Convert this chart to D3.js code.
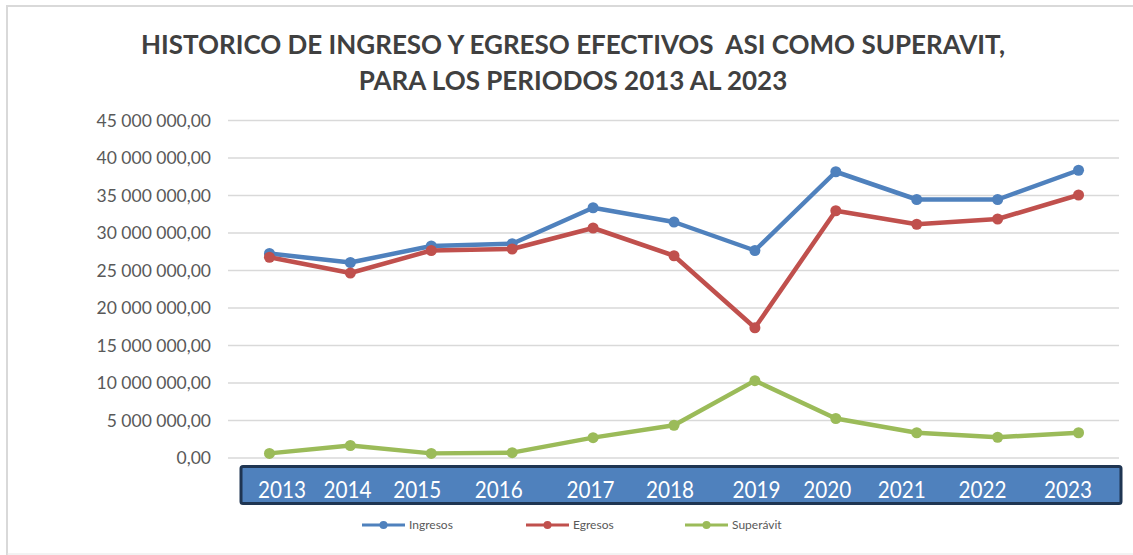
<!DOCTYPE html>
<html>
<head>
<meta charset="utf-8">
<script src="https://cdn.jsdelivr.net/npm/d3@7"></script>
<style>
  html, body { margin: 0; padding: 0; background: #ffffff; }
  svg { display: block; }
  text { font-family: Lato, "Open Sans", sans-serif; }
</style>
</head>
<body>
<svg id="chart" width="1133" height="555"></svg>
<script>
// Years covered by the report
const years = ["2013", "2014", "2015", "2016", "2017", "2018", "2019", "2020", "2021", "2022", "2023"];

// Effective income, expenses and surplus per year (currency units)
const ingresos = [27200000, 26000000, 28200000, 28500000, 33300000, 31400000, 27600000, 38100000, 34400000, 34400000, 38300000];
const egresos = [26700000, 24600000, 27600000, 27800000, 30600000, 26900000, 17300000, 32900000, 31100000, 31800000, 35000000];
const superavit = [550000, 1600000, 550000, 650000, 2650000, 4300000, 10250000, 5200000, 3300000, 2700000, 3300000];

// Value axis ticks
const yTicks = [0, 5000000, 10000000, 15000000, 20000000, 25000000, 30000000, 35000000, 40000000, 45000000];

const seriesNames = ["Ingresos", "Egresos", "Superávit"];
const titleLines = ["HISTORICO DE INGRESO Y EGRESO EFECTIVOS  ASI COMO SUPERAVIT,", "PARA LOS PERIODOS 2013 AL 2023"];

// ---- layout & style ----
const colors = ["#4f81bd", "#c0504d", "#9bbb59"];
const yearLabelNudge = [0, -13, -22, -19, -6, -5, 3, -5, -9, -7, 0];

const svg = d3.select("#chart");

// chart area frame
svg.append("path")
  .attr("d", "M7,555 V6 H1133")
  .attr("fill", "none")
  .attr("stroke", "#d9d9d9")
  .attr("stroke-width", 2);
svg.append("line")
  .attr("x1", 7).attr("x2", 1133).attr("y1", 554).attr("y2", 554)
  .attr("stroke", "#e6e6e6").attr("stroke-width", 1);

// title
svg.append("g").selectAll("text")
  .data(titleLines)
  .join("text")
  .attr("x", 573)
  .attr("y", (d, i) => 54 + i * 36)
  .attr("text-anchor", "middle")
  .attr("font-size", 26)
  .attr("font-weight", 700)
  .attr("fill", "#404040")
  .style("white-space", "pre")
  .text(d => d);

const x = d3.scalePoint().domain(years).range([229, 1119]).padding(0.5);
const y = d3.scaleLinear().domain([0, 45000000]).range([457.5, 120]);

const fmt = v => {
  const s = d3.format(",.2f")(v);
  return s.replace(/,/g, " ").replace(/\.(\d\d)$/, ",$1");
};

// gridlines + value labels
const yAxis = d3.axisLeft(y)
  .tickValues(yTicks)
  .tickSize(-(1119 - 228))
  .tickPadding(17)
  .tickFormat(fmt);

const gy = svg.append("g")
  .attr("transform", "translate(228,0)")
  .call(yAxis);
gy.select(".domain").remove();
gy.selectAll(".tick line")
  .attr("stroke", "#d9d9d9")
  .attr("stroke-width", 1.5);
gy.selectAll(".tick text")
  .attr("font-family", "Lato, sans-serif")
  .attr("font-size", 17.5)
  .attr("fill", "#595959")
  .attr("dy", "0.35em");

// series lines and markers
const allSeries = [ingresos, egresos, superavit];
const line = d3.line()
  .x((d, i) => x(years[i]))
  .y(d => y(d));

allSeries.forEach((vals, s) => {
  const g = svg.append("g");
  g.append("path")
    .datum(vals)
    .attr("d", line)
    .attr("fill", "none")
    .attr("stroke", colors[s])
    .attr("stroke-width", 4.5)
    .attr("stroke-linejoin", "round");
  g.selectAll("circle")
    .data(vals)
    .join("circle")
    .attr("cx", (d, i) => x(years[i]))
    .attr("cy", d => y(d))
    .attr("r", 5.5)
    .attr("fill", colors[s]);
});

// category band
svg.append("rect")
  .attr("x", 241).attr("y", 466.5)
  .attr("width", 880).attr("height", 37)
  .attr("rx", 2)
  .attr("fill", "#4f81bd")
  .attr("stroke", "#1f3552")
  .attr("stroke-width", 3);

const labelX = d3.scalePoint().domain(years).range([282, 1068]);
svg.append("g").selectAll("text")
  .data(years)
  .join("text")
  .attr("x", (d, i) => labelX(d) + yearLabelNudge[i])
  .attr("y", 497.5)
  .attr("text-anchor", "middle")
  .attr("font-size", 23)
  .attr("fill", "#ffffff")
  .attr("textLength", 48)
  .attr("lengthAdjust", "spacingAndGlyphs")
  .text(d => d);

// legend
const legendX = [362, 526, 685];
const lg = svg.append("g").selectAll("g")
  .data(seriesNames)
  .join("g")
  .attr("transform", (d, i) => `translate(${legendX[i]},525)`);
lg.append("line")
  .attr("x1", 0).attr("x2", 43)
  .attr("stroke", (d, i) => colors[i])
  .attr("stroke-width", 3);
lg.append("circle")
  .attr("cx", 21.5).attr("r", 4)
  .attr("fill", (d, i) => colors[i]);
lg.append("text")
  .attr("x", 47)
  .attr("dy", "0.35em")
  .attr("font-size", 12)
  .attr("fill", "#595959")
  .text(d => d);
</script>
</body>
</html>
